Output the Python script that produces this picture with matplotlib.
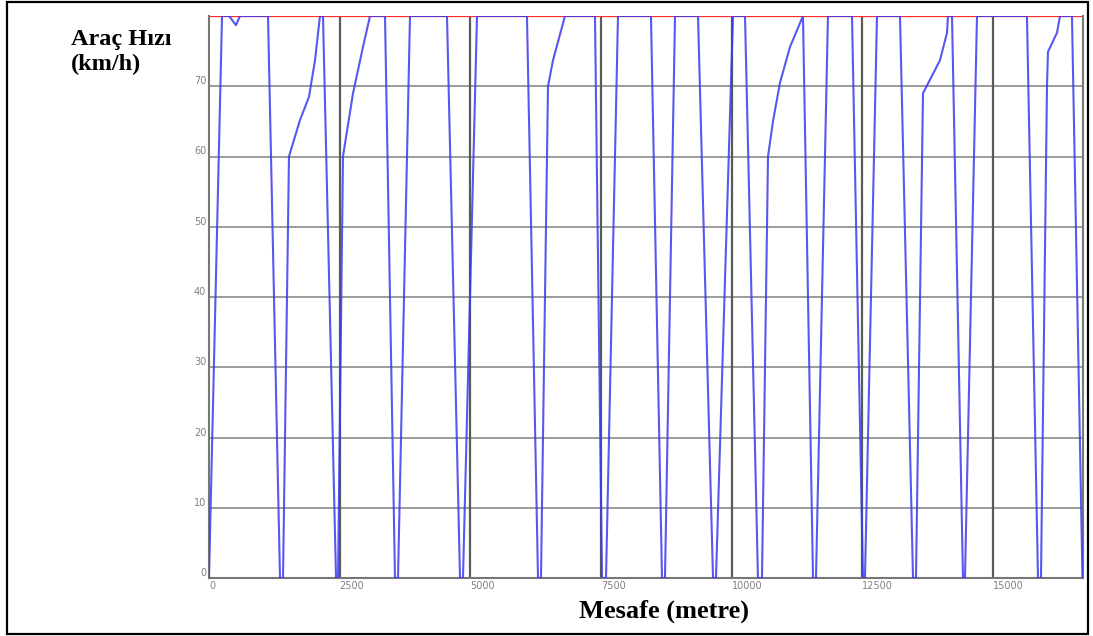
import numpy as np
import matplotlib.pyplot as plt
from matplotlib.patches import Rectangle

# distance (m) and vehicle speed (km/h)
mesafe = [0, 249, 383, 516, 593, 1129, 1358,
          1416, 1530, 1741, 1913, 2028, 2123, 2181, 2430,
          2468, 2563, 2755, 2946, 3080, 3367, 3558,
          3616, 3845, 4553, 4802,
          4859, 5127, 6083, 6294,
          6351, 6485, 6581, 6810, 7384, 7518,
          7595, 7824, 8455, 8666,
          8723, 8915, 9355, 9642,
          9699, 10024, 10254, 10502,
          10579, 10694, 10789, 10923, 11115, 11363, 11555,
          11612, 11841, 12301, 12511,
          12549, 12779, 13219, 13468,
          13525, 13659, 13984, 14118, 14137, 14214, 14424,
          14462, 14692, 15648, 15859,
          15916, 16031, 16050, 16222, 16280, 16509, 16710]
hiz = [0, 80, 80, 78.7, 80, 80, 0,
       0, 60, 65.2, 68.5, 73.7, 80, 80, 0,
       0, 60, 69, 75.6, 80, 80, 0,
       0, 80, 80, 0,
       0, 80, 80, 0,
       0, 70, 73.7, 80, 80, 0,
       0, 80, 80, 0,
       0, 80, 80, 0,
       0, 80, 80, 0,
       0, 60, 65, 70.5, 75.6, 80, 0,
       0, 80, 80, 0,
       0, 80, 80, 0,
       0, 69, 73.7, 77.6, 80, 80, 0,
       0, 80, 80, 0,
       0, 70, 74.9, 77.6, 80, 80, 0]
hiz_limiti = 80
x_ticks = [0, 2500, 5000, 7500, 10000, 12500, 15000]
y_ticks = [0, 10, 20, 30, 40, 50, 60, 70]
x_max = 16720

fig = plt.figure(figsize=(10.93, 6.36), dpi=100)
ax = fig.add_axes([209 / 1093, 58 / 636, 874 / 1093, 562 / 636])

# grid
for yv in y_ticks[1:]:
    ax.axhline(yv, color='#8a8a8a', lw=1.2, zorder=1)
for xv in x_ticks[1:]:
    ax.axvline(xv, color='#5a5a5a', lw=1.6, zorder=1)

ax.plot(mesafe, hiz, color='#3a3af0', lw=1.5, alpha=0.85, zorder=3)
ax.axhline(hiz_limiti, color='#ff2a2a', lw=1.6, zorder=2)

ax.set_xlim(0, x_max)
ax.set_ylim(0, 80)
ax.set_xticks(x_ticks)
ax.set_yticks(y_ticks)
ax.set_xticklabels([str(v) for v in x_ticks], ha='left')
ax.tick_params(length=0, labelsize=7, colors='#808080', pad=2)
for lab in ax.get_yticklabels():
    lab.set_verticalalignment('bottom')

for side in ['left', 'bottom', 'right']:
    ax.spines[side].set_color('#777777')
    ax.spines[side].set_linewidth(1.5)
ax.spines['top'].set_visible(False)

serif = ['Liberation Serif', 'DejaVu Serif']
fig.text(71 / 1093, 1 - 40 / 636, 'Araç Hızı', fontfamily=serif,
         fontweight='bold', fontsize=17.5, va='center', ha='left')
fig.text(71 / 1093, 1 - 64 / 636, '(km/h)', fontfamily=serif,
         fontweight='bold', fontsize=17.5, va='center', ha='left')
fig.text(664 / 1093, 1 - 611 / 636, 'Mesafe (metre)', fontfamily=serif,
         fontweight='bold', fontsize=19, va='center', ha='center')

# outer frame
fig.patches.append(Rectangle((7 / 1093, 2 / 636), 1081 / 1093, 632 / 636,
                             transform=fig.transFigure, fill=False,
                             edgecolor='black', lw=1.6))

fig.savefig('out.png', dpi=100)
